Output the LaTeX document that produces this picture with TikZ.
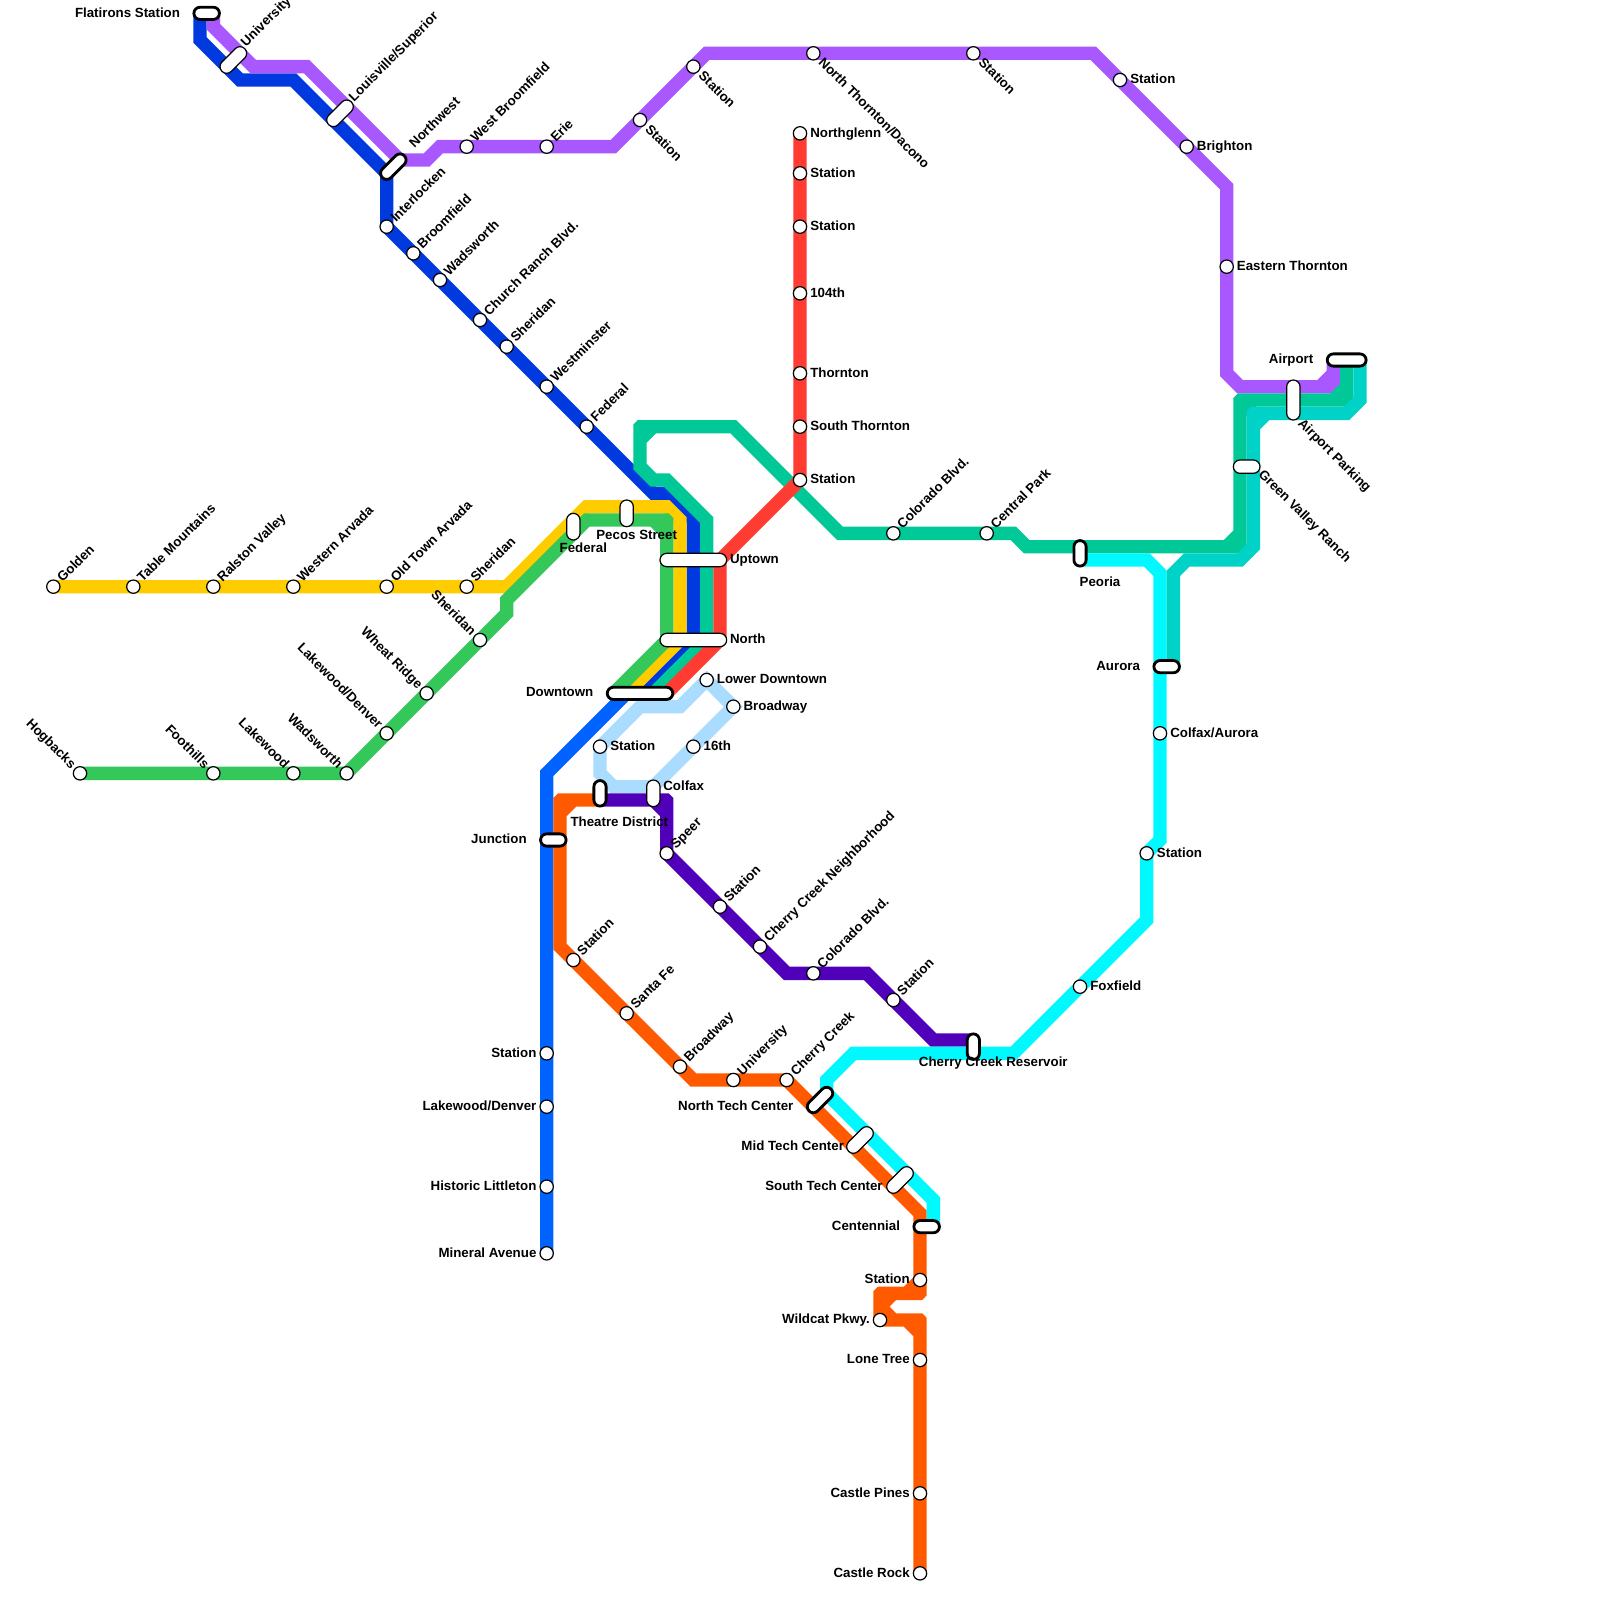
\documentclass[tikz,border=0pt]{standalone}
\usepackage{fontspec}
\setmainfont{Liberation Sans}
\usetikzlibrary{shapes.misc,backgrounds}
\definecolor{cYellow}{HTML}{FFCC00}
\definecolor{cGreen}{HTML}{34C75A}
\definecolor{cNavy}{HTML}{0039DD}
\definecolor{cPurple}{HTML}{A958FF}
\definecolor{cTeal}{HTML}{00C896}
\definecolor{cAqua}{HTML}{00D2C8}
\definecolor{cCyan}{HTML}{00F8FF}
\definecolor{cRed}{HTML}{FF3C32}
\definecolor{cBlue}{HTML}{0062FF}
\definecolor{cSky}{HTML}{AADCFF}
\definecolor{cIndigo}{HTML}{5000B8}
\definecolor{cOrange}{HTML}{FF5A00}
\begin{document}
\begin{tikzpicture}[x=2.5mm, y=-2.5mm,
  lineroute/.style={line width=2.5mm, line cap=round, line join=miter},
  stn/.style={circle, draw=black, fill=white, line width=0.65pt, inner sep=0pt, outer sep=0pt, minimum size=2.5mm},
  pill/.style={rounded rectangle, draw=black, fill=white, line width=0.65pt, inner sep=0pt, outer sep=0pt, minimum height=2.5mm},
  pillb/.style={pill, line width=1.5pt, minimum height=2.5mm-0.6pt},
  lab/.style={inner sep=0pt, outer sep=0pt, text=black, font=\fontsize{7.1}{8}\selectfont\bfseries, text height=4.1pt, text depth=0pt},
  labne/.style={lab, rotate=45, anchor=west},
  labnw/.style={lab, rotate=-45, anchor=east},
  labse/.style={lab, rotate=-45, anchor=west},
  labe/.style={lab, anchor=west},
  labw/.style={lab, anchor=east}]
  \useasboundingbox (0,0) rectangle (120,120);
  \foreach \id/\x/\y/\txt in {golden/4/44/Golden, tablemtn/10/44/Table Mountains, ralston/16/44/Ralston Valley,
    wArvada/22/44/Western Arvada, oldtown/29/44/Old Town Arvada, sheridanY/35/44/Sheridan,
    interlocken/29/17/Interlocken, broomfield/31/19/Broomfield, wadsworthN/33/21/Wadsworth,
    churchranch/36/24/Church Ranch Blvd., sheridanN/38/26/Sheridan, westminster/41/29/Westminster, federalN/44/32/Federal,
    wBroomfield/35/11/West Broomfield, erie/41/11/Erie, coloradoT/67/40/Colorado Blvd., centralpark/74/40/Central Park,
    speer/50/64/Speer, stationIa/54/68/Station, cherrycreekN/57/71/Cherry Creek Neighborhood, coloradoI/61/73/Colorado Blvd.,
    stationIb/67/75/Station, stationOa/43/72/Station, santafe/47/76/Santa Fe, broadwayO/51/80/Broadway,
    universityO/55/81/University, cherrycreek/59/81/Cherry Creek} {
    \node[stn] (\id) at (\x,\y) {};
    \node[labne] (\id-t) at ([shift={(.5,-.5)}]\id.center) {\txt};
  }
  \foreach \id/\x/\y/\txt in {hogbacks/6/58/Hogbacks, foothills/16/58/Foothills, lakewood/22/58/Lakewood,
    wadsworthG/26/58/Wadsworth, lakewoodG/29/55/{Lakewood/Denver}, wheatridge/32/52/Wheat Ridge, sheridanG/36/48/Sheridan} {
    \node[stn] (\id) at (\x,\y) {};
    \node[labnw] (\id-t) at ([shift={(-.5,-.5)}]\id.center) {\txt};
  }
  \foreach \id/\x/\y/\txt in {stationPa/48/9/Station, stationPb/52/5/Station,
    nthornton/61/4/{North Thornton/Dacono}, stationPc/73/4/Station} {
    \node[stn] (\id) at (\x,\y) {};
    \node[labse] (\id-t) at ([shift={(.55,.55)}]\id.center) {\txt};
  }
  \foreach \id/\x/\y/\txt in {stationPd/84/6/Station, brighton/89/11/Brighton, ethornton/92/20/Eastern Thornton,
    northglenn/60/10/Northglenn, stationRa/60/13/Station, stationRb/60/17/Station, r104th/60/22/104th,
    thornton/60/28/Thornton, sthornton/60/32/South Thornton, stationRc/60/36/Station,
    lowerdt/53/51/Lower Downtown, broadwayS/55/53/Broadway, stationS/45/56/Station, s16th/52/56/16th,
    colfaxaurora/87/55/{Colfax/Aurora}, stationCa/86/64/Station, foxfield/81/74/Foxfield} {
    \node[stn] (\id) at (\x,\y) {};
    \node[labe] (\id-t) at ([xshift=.77*2.5mm]\id.center) {\txt};
  }
  \foreach \id/\x/\y/\txt in {stationBa/41/79/Station, lakewoodB/41/83/{Lakewood/Denver},
    littleton/41/89/Historic Littleton, mineral/41/94/Mineral Avenue, stationOb/69/96/Station,
    wildcat/66/99/Wildcat Pkwy., lonetree/69/102/Lone Tree, castlepines/69/112/Castle Pines, castlerock/69/118/Castle Rock} {
    \node[stn] (\id) at (\x,\y) {};
    \node[labw] (\id-t) at ([xshift=-.77*2.5mm]\id.center) {\txt};
  }
  \foreach \id/\x/\y/\ang/\len in {university/17.5/4.5/45/2.41, louisville/25.5/8.5/45/2.41, federalP/43/39.5/90/2,
    pecos/47/38.5/90/2, uptown/52/42/0/5, north/52/48/0/5, colfax/49/59.5/90/2, greenvalley/93.5/35/0/2,
    airportpk/97/30/90/3, midtech/64.5/85.5/45/2.41, southtech/67.5/88.5/45/2.41} {
    \node[pill, rotate=\ang, minimum width=\len*2.5mm] (\id) at (\x,\y) {};
  }
  \foreach \id/\x/\y/\ang/\len in {flatirons/15.5/1/0/2, northwest/29.5/12.5/45/2.41, downtown/48/52/0/5,
    junction/41.5/63/0/2, theatre/45/59.5/90/2, peoria/81/41.5/90/2, aurora/87.5/50/0/2, airport/101/27/0/3,
    reservoir/73/78.5/90/2, northtech/61.5/82.5/45/2.41, centennial/69.5/92/0/2} {
    \node[pillb, rotate=\ang, minimum width=\len*2.5mm-0.6pt] (\id) at (\x,\y) {};
  }
  \node[labw] (flatirons-t) at (13.5,1.02) {Flatirons Station};
  \node[labne] (university-t) at (18.25,3.35) {University};
  \node[labne] (louisville-t) at (26.35,7.45) {Louisville/Superior};
  \node[labne] (northwest-t) at (30.9,10.95) {Northwest};
  \node[lab] (federalP-t) at (43.75,41.17) {Federal};
  \node[lab] (pecos-t) at (47.75,40.17) {Pecos Street};
  \node[labe] (uptown-t) at (54.75,42) {Uptown};
  \node[labe] (north-t) at (54.75,48) {North};
  \node[labw] (downtown-t) at (44.5,51.97) {Downtown};
  \node[labe] (colfax-t) at (49.75,58.97) {Colfax};
  \node[lab] (theatre-t) at (46.45,61.67) {Theatre District};
  \node[labw] (junction-t) at (39.5,62.97) {Junction};
  \node[lab] (peoria-t) at (82.5,43.67) {Peoria};
  \node[labw] (aurora-t) at (85.5,49.97) {Aurora};
  \node[labw] (airport-t) at (98.5,26.97) {Airport};
  \node[labse] (airportpk-t) at (97.5,31.6) {Airport Parking};
  \node[labse] (greenvalley-t) at (94.55,35.45) {Green Valley Ranch};
  \node[lab] (reservoir-t) at (74.5,79.67) {Cherry Creek Reservoir};
  \node[labw] (northtech-t) at (59.5,82.97) {North Tech Center};
  \node[labw] (midtech-t) at (63.3,85.97) {Mid Tech Center};
  \node[labw] (southtech-t) at (66.2,88.97) {South Tech Center};
  \node[labw] (centennial-t) at (67.5,91.97) {Centennial};
  \coordinate (flatN) at (15,1);
  \coordinate (flatP) at (16,1);
  \coordinate (airP) at (100,27);
  \coordinate (airT) at (101,27);
  \coordinate (airA) at (102,27);
  \coordinate (auroraA) at (88,50);
  \coordinate (dtG) at (46,52);
  \coordinate (dtY) at (47,52);
  \coordinate (dtN) at (48,52);
  \coordinate (dtT) at (49,52);
  \coordinate (dtR) at (50,52);
  \coordinate (theatreW) at (45,60);
  \coordinate (reservoirI) at (73,78);
  \coordinate (peoriaC) at (81,42);
  \coordinate (centC) at (70,92);
  \begin{pgfonlayer}{background}
    \draw[lineroute, cSky] (stationS.center) -- (48,53) -- (51,53) -- (lowerdt.center) -- (broadwayS.center)
      -- (49,59) -- (46,59) -- (45,58) -- (stationS.center);
    \draw[lineroute, cBlue] (mineral.center) -- (41,58) -- (dtY);
    \draw[lineroute, cNavy] (flatN) -- (15,3) -- (18,6) -- (22,6) -- (29,13) -- (interlocken.center) -- (49,37) -- (50,37)
      -- (52,39) -- (52,48) -- (dtN);
    \draw[lineroute, cYellow] (golden.center) -- (38,44) -- (44,38) -- (50,38) -- (51,39) -- (51,48) -- (dtY);
    \draw[lineroute, cGreen] (hogbacks.center) -- (wadsworthG.center) -- (38,46) -- (38,45) -- (44,39) -- (49.95,39)
      -- (50,39.05) -- (50,48) -- (dtG) (49,39) -- (50,40);
    \draw[lineroute, cPurple] (flatP) -- (16,2) -- (19,5) -- (23,5) -- (30,12) -- (32,12) -- (33,11) -- (46,11) -- (53,4)
      -- (82,4) -- (92,14) -- (92,28) -- (93,29) -- (99.95,29) -- (100,28.95) -- (airP) (99,29) -- (100,28);
    \draw[lineroute, cTeal] (airT) -- (101,30) -- (93.05,30) -- (93,30.05) -- (93,41) -- (77,41) -- (76,40) -- (63,40)
      -- (55,32) -- (48.05,32) -- (48,32.05) -- (48,35) -- (49,36) -- (50,36) -- (53,39) -- (53,48) -- (dtT)
      (100,30) -- (101,29) (93,31) -- (94,30) (92,41) -- (93,40) (48,33) -- (49,32);
    \draw[lineroute, cRed] (northglenn.center) -- (stationRc.center) -- (54,42) -- (54,48) -- (dtR);
    \draw[lineroute, cIndigo] (theatreW) -- (49.95,60) -- (50,60.05) -- (speer.center) -- (59,73) -- (65,73) -- (70,78)
      -- (reservoirI) (49,60) -- (50,61);
    \draw[lineroute, cOrange] (theatreW) -- (42.05,60) -- (42,60.05) -- (42,71) -- (52,81) -- (cherrycreek.center) -- (69,91)
      -- (69,96.95) -- (68.95,97) -- (66.05,97) -- (66,97.05) -- (66,98.95) -- (66.05,99) -- (68.95,99) -- (69,99.05)
      -- (castlerock.center)
      (42,61) -- (43,60) (68,97) -- (69,96) (66,98) -- (67,97) (66,98) -- (67,99) (68,99) -- (69,100);
    \draw[lineroute, cCyan] (peoriaC) -- (86,42) -- (87,43) -- (87,63) -- (86,64) -- (86,69) -- (76,79) -- (64,79)
      -- (62,81) -- (62,82) -- (70,90) -- (centC);
    \draw[lineroute, cAqua] (airA) -- (102,30) -- (101,31) -- (94.05,31) -- (94,31.05) -- (94,41) -- (93,42) -- (89,42)
      -- (88,43) -- (auroraA) (94,32) -- (95,31);
  \end{pgfonlayer}
\end{tikzpicture}
\end{document}
